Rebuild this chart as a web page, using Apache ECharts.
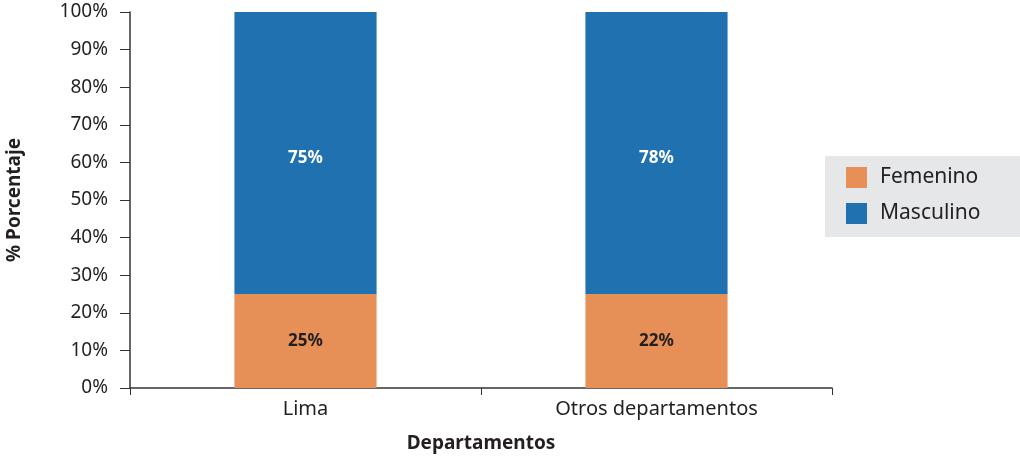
<!DOCTYPE html>
<html>
<head>
<meta charset="utf-8">
<script src="https://cdn.jsdelivr.net/npm/echarts@6/dist/echarts.min.js"></script>
<style>
  html, body { margin: 0; padding: 0; background: #fff; }
  #chart { width: 1020px; height: 460px; }
</style>
</head>
<body>
<div id="chart"></div>
<script>
// categorías y valores (alturas dibujadas) + etiquetas mostradas
const categorias = ['Lima', 'Otros departamentos'];
const femenino = [25, 25];
const masculino = [75, 75];
const etiquetasFem = ['25%', '22%'];
const etiquetasMasc = ['75%', '78%'];

const FONT = '"Noto Sans", sans-serif';
const chart = echarts.init(document.getElementById('chart'));

chart.setOption({
  animation: false,
  textStyle: { fontFamily: FONT },
  grid: { left: 130, right: 188, top: 12, bottom: 72, outerBoundsMode: 'none' },
  legend: {
    orient: 'vertical',
    left: 825,
    top: 156,
    backgroundColor: '#e6e7e8',
    padding: [11, 40, 13, 21],
    itemWidth: 21,
    itemHeight: 21,
    itemGap: 15,
    icon: 'rect',
    textStyle: { fontSize: 21, color: '#231f20', fontFamily: FONT, padding: [0, 0, 0, 8] },
    data: ['Femenino', 'Masculino']
  },
  xAxis: {
    type: 'category',
    data: categorias,
    name: 'Departamentos',
    nameLocation: 'middle',
    nameGap: 46,
    nameTextStyle: { fontSize: 19, fontWeight: 'bold', color: '#231f20' },
    axisLine: { lineStyle: { color: '#333', width: 1.5 } },
    axisTick: { show: true, length: 7, lineStyle: { color: '#333' } },
    axisLabel: { fontSize: 20, color: '#231f20', margin: 11 }
  },
  yAxis: {
    type: 'value',
    min: 0,
    max: 100,
    interval: 10,
    name: '% Porcentaje',
    nameLocation: 'middle',
    nameGap: 106,
    nameTextStyle: { fontSize: 19, fontWeight: 'bold', color: '#231f20' },
    axisLine: { show: true, lineStyle: { color: '#333', width: 1.5 } },
    axisTick: { show: true, length: 10, lineStyle: { color: '#333' } },
    axisLabel: { fontSize: 19, color: '#231f20', margin: 22, formatter: '{value}%' },
    splitLine: { show: false }
  },
  series: [
    {
      name: 'Femenino',
      type: 'bar',
      stack: 'total',
      barWidth: '40.5%',
      data: femenino,
      itemStyle: { color: '#e69057' },
      label: {
        show: true,
        position: 'inside',
        fontSize: 17,
        fontWeight: 'bold',
        color: '#231f20',
        formatter: p => etiquetasFem[p.dataIndex]
      }
    },
    {
      name: 'Masculino',
      type: 'bar',
      stack: 'total',
      data: masculino,
      itemStyle: { color: '#1f71b0' },
      label: {
        show: true,
        position: 'inside',
        offset: [0, 5],
        fontSize: 17,
        fontWeight: 'bold',
        color: '#ffffff',
        formatter: p => etiquetasMasc[p.dataIndex]
      }
    }
  ]
});
</script>
</body>
</html>
